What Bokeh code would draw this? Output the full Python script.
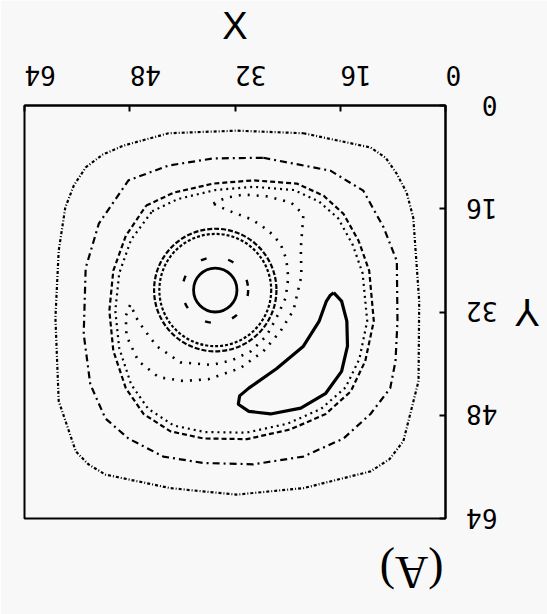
import math
from bokeh.plotting import figure
from bokeh.models import Range1d, FixedTicker, LinearAxis
from bokeh.embed import file_html
from bokeh.resources import INLINE

BG = "#f8f8f8"

# axis ticks (both axes run 0..64, drawn upside down)
ticks = [0, 16, 32, 48, 64]

# outermost contour (fine dash-dot)
outer_x = [21.6, 11.4, 9.1, 7.4, 5.9, 4.9, 4.0, 4.1, 6.4, 8.5, 11.4, 21.6, 31.8, 41.8, 51.7, 54.3, 56.2, 58.8, 59.3,
           58.8, 57.8, 56.5, 54.7, 52.1, 48.9, 42.1, 31.8]
outer_y = [4.3, 6.5, 8.1, 10.6, 13.5, 17.4, 30.3, 42.7, 52.0, 54.8, 56.7, 59.3, 60.3, 59.3, 57.2, 55.6, 53.6, 45.8, 32.9,
           22.5, 15.8, 12.4, 9.6, 7.6, 6.2, 4.3, 3.9]

# second contour (dash-dot)
second_x = [27.7, 17.5, 12.5, 9.4, 7.4, 7.3, 7.6, 8.4, 11.4, 15.5, 21.6, 29.2, 36.8, 42.9, 48.2, 51.7, 54.0, 55.0, 54.7, 52.7, 48.2, 42.1, 35.3]
second_y = [8.1, 10.1, 13.2, 18.9, 24.1, 33.4, 39.6, 43.8, 47.8, 51.6, 54.4, 55.6, 55.4, 54.4, 51.6, 48.5, 43.2, 35.4, 25.2, 18.3, 11.6, 9.3, 8.2]

# third contour, a close pair: dashed outer and dotted inner
third_a_x = [45.5, 41.3, 35.3, 29.2, 22.6, 18.5, 15.5, 13.2, 11.6, 10.9, 12.2, 14.4, 18.2, 23.6, 30.2, 36.8, 41.8, 45.9, 48.6, 50.5, 51.1, 50.5, 48.6]
third_a_y = [15.5, 13.5, 12.1, 11.6, 12.1, 14.0, 16.8, 21.0, 25.6, 33.4, 39.6, 44.3, 47.8, 50.2, 51.7, 51.6, 50.5, 47.8, 43.8, 38.0, 31.8, 25.6, 20.2]
third_b_x = [44.6, 40.7, 35.0, 29.2, 23.0, 19.2, 16.3, 14.1, 12.6, 11.9, 13.1, 15.2, 18.9, 24.0, 30.3, 36.6, 41.3, 45.2, 47.8, 49.6, 50.2, 49.6, 47.8]
third_b_y = [16.4, 14.5, 13.1, 12.6, 13.1, 14.9, 17.5, 21.6, 26.0, 33.4, 39.3, 43.7, 47.0, 49.3, 50.7, 50.6, 49.6, 47.0, 43.2, 37.6, 31.8, 26.0, 20.8]

# folded dotted contour wrapping the vortex (two tongues)
fold_x = [35.3, 33.4, 30.7, 26.9, 23.4, 21.6, 22.0, 21.9, 23.1, 25.1, 27.7, 31.2, 36.0, 39.8, 43.6, 46.7, 48.5, 48.6,
          47.9, 47.0, 45.9, 43.9, 40.3, 35.6, 32.5, 29.6, 27.2, 25.7, 24.3, 23.9, 24.2, 25.1, 26.4, 28.0, 29.6, 32.2, 34.1]
fold_y = [15.2, 14.3, 13.8, 14.1, 15.1, 16.9, 22.1, 26.4, 31.7, 35.0, 38.1, 40.7, 42.4, 42.7, 42.1, 39.6, 35.7, 32.6,
          30.8, 32.9, 34.6, 37.3, 39.8, 40.2, 39.5, 38.1, 35.7, 32.9, 29.8, 26.7, 23.8, 21.4, 19.9, 18.6, 17.6, 16.6, 15.8]

# solid crescent
cres_x = [17.0, 15.8, 15.0, 14.9, 15.8, 18.2, 22.0, 26.6, 29.9, 31.5, 31.3, 29.9, 25.7, 21.6, 19.2, 18.1, 17.5]
cres_y = [29.0, 30.3, 33.4, 37.3, 41.2, 44.6, 46.9, 47.8, 47.4, 46.3, 45.0, 43.8, 40.8, 37.3, 33.4, 30.3, 29.4]

# vortex rings: centre and diameters (x, y) from the core outwards
vortex_x = 35.0
vortex_y = 28.6
ring_w = [6.6, 10.0, 17.0, 18.6]
ring_h = [6.8, 10.2, 17.4, 19.0]

# panel tag, set under the frame at this x position
tag_x = 10
tag_text = "(A)"


def closed(v):
    return list(v) + [v[0]]


p = figure(frame_width=421, frame_height=413,
           x_range=Range1d(64, 0), y_range=Range1d(64, 0),
           x_axis_location="above", y_axis_location="right",
           output_backend="svg", toolbar_location=None,
           min_border_left=24, min_border_top=105,
           min_border_right=102, min_border_bottom=96,
           background_fill_color=BG, border_fill_color=BG)
p.grid.visible = False
p.outline_line_color = "black"
p.outline_line_width = 2

for ax in (p.xaxis[0], p.yaxis[0]):
    ax.ticker = FixedTicker(ticks=ticks)
    ax.major_label_text_font = "DejaVu Sans Mono"
    ax.major_label_text_font_size = "26px"
    ax.major_label_text_color = "black"
    ax.major_tick_in = 6
    ax.major_tick_out = 0
    ax.minor_tick_line_color = None
    ax.axis_line_width = 2
    ax.major_tick_line_width = 2
    ax.axis_label_text_font = "Liberation Sans"
    ax.axis_label_text_font_style = "normal"
    ax.axis_label_text_font_size = "38px"
    ax.axis_label_text_color = "black"

# upside-down tick labels
p.xaxis.major_label_orientation = -math.pi
p.xaxis.major_label_standoff = 30
p.yaxis.major_label_orientation = math.pi
p.yaxis.major_label_standoff = 52

p.xaxis.axis_label = "X"
p.xaxis.axis_label_standoff = 6
p.yaxis.axis_label = "Y"
p.yaxis.axis_label_orientation = math.pi
p.yaxis.axis_label_standoff = 8

# bare axis under the frame that carries only the upside-down panel tag
tag_axis = LinearAxis(ticker=FixedTicker(ticks=[tag_x]),
                      major_label_overrides={tag_x: tag_text},
                      major_label_orientation=math.pi,
                      major_label_standoff=48,
                      major_label_text_font="Liberation Serif",
                      major_label_text_font_size="46px",
                      major_label_text_color="black",
                      axis_line_color=None, major_tick_line_color=None,
                      minor_tick_line_color=None)
p.add_layout(tag_axis, "below")

p.line(closed(outer_x), closed(outer_y), color="black", line_width=2.2, line_dash="3 2 1 2")
p.line(closed(second_x), closed(second_y), color="black", line_width=2.2, line_dash="7 4 2 4")
p.line(closed(third_a_x), closed(third_a_y), color="black", line_width=2.2, line_dash="5 3")
p.line(closed(third_b_x), closed(third_b_y), color="black", line_width=2.2, line_dash="2 4")
p.line(closed(fold_x), closed(fold_y), color="black", line_width=2.6, line_dash="2 7")
p.line(closed(cres_x), closed(cres_y), color="black", line_width=3.2)

p.ellipse(x=vortex_x, y=vortex_y, width=ring_w[0], height=ring_h[0],
          fill_color=None, line_color="black", line_width=2.8)
p.ellipse(x=vortex_x, y=vortex_y, width=ring_w[1], height=ring_h[1],
          fill_color=None, line_color="black", line_width=2.4, line_dash="6 22")
p.ellipse(x=vortex_x, y=vortex_y, width=ring_w[2], height=ring_h[2],
          fill_color=None, line_color="black", line_width=2.2, line_dash="3 2")
p.ellipse(x=vortex_x, y=vortex_y, width=ring_w[3], height=ring_h[3],
          fill_color=None, line_color="black", line_width=2.2, line_dash="5 2")

open("out.html", "w").write(file_html(p, INLINE))
